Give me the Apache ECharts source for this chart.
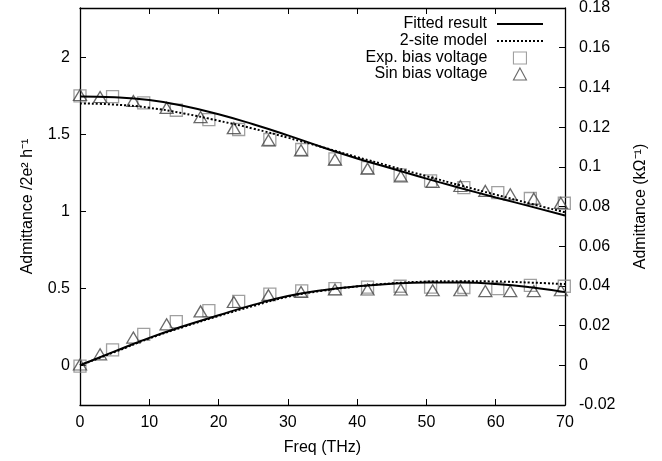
<!DOCTYPE html>
<html>
<head>
<meta charset="utf-8">
<script src="https://cdn.jsdelivr.net/npm/echarts@6/dist/echarts.min.js"></script>
<style>
html,body{margin:0;padding:0;background:#fff;}
#chart{width:662px;height:461px;}
</style>
</head>
<body>
<div id="chart"></div>
<script>
// Fitted curves, x in THz, y in 2e^2/h
var curveX = [0, 5, 10, 15, 20, 25, 30, 35, 40, 45, 50, 55, 60, 65, 70];
var fitUpper = [1.745, 1.740, 1.722, 1.684, 1.630, 1.565, 1.493, 1.416, 1.343, 1.278, 1.212, 1.150, 1.090, 1.032, 0.972];
var fitLower = [0.000, 0.090, 0.178, 0.255, 0.325, 0.392, 0.450, 0.487, 0.513, 0.530, 0.538, 0.537, 0.528, 0.507, 0.475];
var modelUpper = [1.700, 1.693, 1.672, 1.635, 1.588, 1.537, 1.478, 1.416, 1.352, 1.290, 1.228, 1.167, 1.108, 1.050, 0.993];
var modelLower = [0.000, 0.086, 0.174, 0.250, 0.320, 0.385, 0.445, 0.484, 0.512, 0.532, 0.543, 0.546, 0.544, 0.537, 0.527];

// Exp. bias voltage (squares)
var expX = [0, 4.7, 9.2, 13.9, 18.6, 22.9, 27.4, 32.0, 36.8, 41.5, 46.2, 50.6, 55.4, 60.3, 65.0, 69.9];
var expUpper = [1.749, 1.745, 1.704, 1.656, 1.595, 1.531, 1.466, 1.401, 1.340, 1.284, 1.236, 1.197, 1.154, 1.121, 1.083, 1.052];
var expLower = [-0.005, 0.100, 0.200, 0.284, 0.355, 0.415, 0.462, 0.483, 0.498, 0.508, 0.513, 0.508, 0.505, 0.498, 0.519, 0.513];

// Sin bias voltage (triangles)
var sinX = [0, 2.9, 7.7, 12.5, 17.4, 22.2, 27.2, 31.9, 36.8, 41.5, 46.3, 50.9, 54.9, 58.5, 62.1, 65.5, 69.4];
var sinUpper = [1.755, 1.742, 1.716, 1.671, 1.612, 1.540, 1.461, 1.396, 1.336, 1.277, 1.227, 1.190, 1.164, 1.132, 1.110, 1.082, 1.054];
var sinLower = [0.005, 0.071, 0.180, 0.266, 0.350, 0.411, 0.455, 0.476, 0.492, 0.492, 0.492, 0.487, 0.487, 0.482, 0.482, 0.482, 0.487];

var xTicks = [0, 10, 20, 30, 40, 50, 60, 70];
var leftTicks = [0, 0.5, 1, 1.5, 2];
var rightTicks = [-0.02, 0, 0.02, 0.04, 0.06, 0.08, 0.1, 0.12, 0.14, 0.16, 0.18];

var NAMES = ['Fitted result', '2-site model', 'Exp. bias voltage', 'Sin bias voltage'];

function pairs(xs, ys) { return xs.map(function (x, i) { return [x, ys[i]]; }); }

var FONT = 'Liberation Sans, Arial, Helvetica, sans-serif';
var FS = 16;

var chart = echarts.init(document.getElementById('chart'), null, { renderer: 'canvas' });

var lineBase = { type: 'line', smooth: true, symbol: 'none', showSymbol: false, yAxisIndex: 0, xAxisIndex: 0, z: 5 };

var legendRows = [23, 40, 57, 73];
var legends = NAMES.map(function (n, i) {
  var isLine = i < 2;
  var l = {
    data: [n],
    orient: 'vertical',
    right: isLine ? 118 : 135,
    top: legendRows[i] - 7,
    itemWidth: isLine ? 46 : 13,
    itemHeight: isLine ? 14 : 12,
    align: 'right',
    padding: 0,
    textStyle: { fontFamily: FONT, fontSize: FS, color: '#000', padding: [0, isLine ? 5 : 21, 0, 0] },
    selectedMode: false
  };
  if (isLine) { l.itemStyle = { color: 'rgba(0,0,0,0)', borderWidth: 0, opacity: 0 }; }
  else { l.itemStyle = { borderWidth: 1.1 }; }
  return l;
});

var option = {
  backgroundColor: '#fff',
  animation: false,
  grid: { left: 80, right: 97, top: 8, bottom: 56 },
  legend: legends,
  xAxis: [{
    type: 'value', position: 'bottom', min: 0, max: 70, interval: 10,
    name: 'Freq (THz)', nameLocation: 'middle', nameGap: 35,
    nameTextStyle: { fontFamily: FONT, fontSize: FS, color: '#000' },
    axisLine: { show: true, onZero: false, lineStyle: { color: '#000', width: 1.3 } },
    axisTick: { show: true, inside: true, length: 6, lineStyle: { color: '#000' } },
    axisLabel: { fontFamily: FONT, fontSize: FS, color: '#000', margin: 10 },
    splitLine: { show: false }
  }, {
    type: 'value', position: 'top', min: 0, max: 70, interval: 10,
    axisLine: { show: true, onZero: false, lineStyle: { color: '#000', width: 1.3 } },
    axisTick: { show: true, inside: true, length: 6, lineStyle: { color: '#000' } },
    axisLabel: { show: false },
    splitLine: { show: false }
  }],
  yAxis: [{
    type: 'value', position: 'left', min: -0.258, max: 2.32,
    name: 'Admittance /2e² h⁻¹', nameLocation: 'middle', nameGap: 44,
    nameTextStyle: { fontFamily: FONT, fontSize: FS, color: '#000' },
    axisLine: { show: true, onZero: false, lineStyle: { color: '#000', width: 1.3 } },
    axisTick: { show: true, inside: true, length: 6, customValues: leftTicks, lineStyle: { color: '#000' } },
    axisLabel: { fontFamily: FONT, fontSize: FS, color: '#000', margin: 10, customValues: leftTicks },
    splitLine: { show: false }
  }, {
    type: 'value', position: 'right', min: -0.02, max: 0.18, interval: 0.02,
    name: 'Admittance (kΩ⁻¹)', nameLocation: 'middle', nameGap: 68,
    nameTextStyle: { fontFamily: FONT, fontSize: FS, color: '#000' },
    axisLine: { show: true, onZero: false, lineStyle: { color: '#000', width: 1.3 } },
    axisTick: { show: true, inside: true, length: 6, lineStyle: { color: '#000' } },
    axisLabel: { fontFamily: FONT, fontSize: FS, color: '#000', margin: 14,
      formatter: function (v) { return String(Math.round(v * 100) / 100); } },
    splitLine: { show: false }
  }],
  series: [
    Object.assign({}, lineBase, { name: NAMES[0], data: pairs(curveX, fitUpper),
      lineStyle: { color: '#000', width: 2 }, itemStyle: { color: '#000' } }),
    Object.assign({}, lineBase, { name: NAMES[0], data: pairs(curveX, fitLower),
      lineStyle: { color: '#000', width: 2 }, itemStyle: { color: '#000' } }),
    Object.assign({}, lineBase, { name: NAMES[1], data: pairs(curveX, modelUpper),
      lineStyle: { color: '#000', width: 2, type: [2, 2] }, itemStyle: { color: '#000' } }),
    Object.assign({}, lineBase, { name: NAMES[1], data: pairs(curveX, modelLower),
      lineStyle: { color: '#000', width: 2, type: [2, 2] }, itemStyle: { color: '#000' } }),
    { type: 'scatter', name: NAMES[2], data: pairs(expX, expUpper), symbol: 'rect', symbolSize: 12, z: 3,
      itemStyle: { color: 'rgba(255,255,255,0)', borderColor: '#888', borderWidth: 1.3 } },
    { type: 'scatter', name: NAMES[2], data: pairs(expX, expLower), symbol: 'rect', symbolSize: 12, z: 3,
      itemStyle: { color: 'rgba(255,255,255,0)', borderColor: '#888', borderWidth: 1.3 } },
    { type: 'scatter', name: NAMES[3], data: pairs(sinX, sinUpper), symbol: 'triangle', symbolSize: [13, 11], z: 4,
      itemStyle: { color: 'rgba(255,255,255,0)', borderColor: '#444', borderWidth: 1.3 } },
    { type: 'scatter', name: NAMES[3], data: pairs(sinX, sinLower), symbol: 'triangle', symbolSize: [13, 11], z: 4,
      itemStyle: { color: 'rgba(255,255,255,0)', borderColor: '#444', borderWidth: 1.3 } }
  ]
};
chart.setOption(option);
</script>
</body>
</html>
